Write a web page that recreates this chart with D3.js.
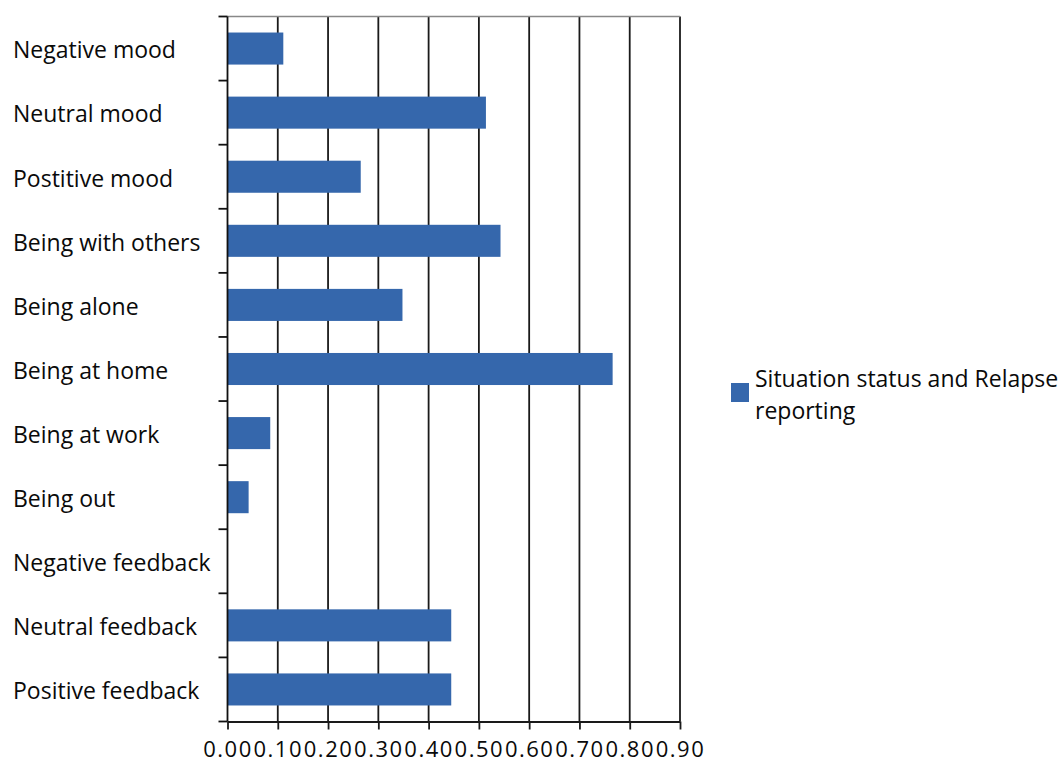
<!DOCTYPE html>
<html>
<head>
<meta charset="utf-8">
<script src="https://cdn.jsdelivr.net/npm/d3@7"></script>
<style>
  html, body { margin: 0; padding: 0; background: #fff; }
  svg text { font-family: "Open Sans", "Noto Sans", sans-serif; fill: #0a0a0a; }
</style>
</head>
<body>
<svg id="chart" width="1063" height="763"></svg>
<script>
// Situations reported alongside relapse, share of reports
const categories = [
  "Negative mood", "Neutral mood", "Postitive mood", "Being with others",
  "Being alone", "Being at home", "Being at work", "Being out",
  "Negative feedback", "Neutral feedback", "Positive feedback"
];
const values = [0.111, 0.514, 0.265, 0.543, 0.348, 0.766, 0.085, 0.042, 0, 0.445, 0.445];
const xTicks = [0, 0.1, 0.2, 0.3, 0.4, 0.5, 0.6, 0.7, 0.8, 0.9];
const seriesName = ["Situation status and Relapse", "reporting"];

const svg = d3.select("#chart");
const plotLeft = 227.5, plotRight = 680, plotTop = 16.5, plotBottom = 721.5;

const x = d3.scaleLinear().domain([0, 0.9]).range([plotLeft, plotRight]);
const y = d3.scaleBand().domain(categories).range([plotTop, plotBottom]).paddingInner(0.5).paddingOuter(0.25);

// vertical gridlines
svg.append("g")
  .selectAll("line")
  .data(xTicks.slice(1))
  .join("line")
  .attr("x1", d => x(d)).attr("x2", d => x(d))
  .attr("y1", plotTop).attr("y2", plotBottom)
  .attr("stroke", "#1a1a1a").attr("stroke-width", 1.8);

// top frame line
svg.append("line")
  .attr("x1", plotLeft).attr("x2", plotRight)
  .attr("y1", plotTop).attr("y2", plotTop)
  .attr("stroke", "#888").attr("stroke-width", 1.4);

// bars
svg.append("g")
  .selectAll("rect")
  .data(categories.map((c, i) => ({ c, v: values[i] })))
  .join("rect")
  .attr("x", x(0))
  .attr("y", d => y(d.c))
  .attr("width", d => x(d.v) - x(0))
  .attr("height", y.bandwidth())
  .attr("fill", "#3567AC");

// bottom axis
const xAxis = d3.axisBottom(x)
  .tickValues(xTicks)
  .tickFormat(d3.format(".2f"))
  .tickSize(8)
  .tickSizeOuter(0);
const gx = svg.append("g").attr("transform", `translate(0,${plotBottom})`).call(xAxis);
gx.select(".domain").attr("stroke", "#1a1a1a").attr("stroke-width", 1.8);
gx.selectAll(".tick line").attr("stroke", "#1a1a1a").attr("stroke-width", 1.8);
gx.selectAll(".tick text")
  .attr("y", 20)
  .attr("font-size", 22)
  .attr("letter-spacing", "1.5px")
  .attr("font-family", "'Open Sans', sans-serif")
  .attr("fill", "#0a0a0a");

// left axis: ticks at category boundaries
const bounds = d3.range(categories.length + 1).map(i => plotTop + i * (plotBottom - plotTop) / categories.length);
svg.append("line")
  .attr("x1", plotLeft).attr("x2", plotLeft).attr("y1", plotTop).attr("y2", plotBottom)
  .attr("stroke", "#111").attr("stroke-width", 1.8);
svg.append("g")
  .selectAll("line")
  .data(bounds)
  .join("line")
  .attr("x1", plotLeft - 9).attr("x2", plotLeft)
  .attr("y1", d => d).attr("y2", d => d)
  .attr("stroke", "#111").attr("stroke-width", 1.8);

// category labels, left aligned
svg.append("g")
  .selectAll("text")
  .data(categories)
  .join("text")
  .attr("x", 13)
  .attr("y", d => y(d) + y.bandwidth() / 2 + 9.8)
  .attr("font-size", 23)
  .text(d => d);

// legend
const lg = svg.append("g");
lg.append("rect").attr("x", 731).attr("y", 383).attr("width", 18).attr("height", 19).attr("fill", "#3567AC");
lg.selectAll("text")
  .data(seriesName)
  .join("text")
  .attr("x", 755)
  .attr("y", (d, i) => 387 + i * 31.6)
  .attr("font-size", 23)
  .text(d => d);
</script>
</body>
</html>
